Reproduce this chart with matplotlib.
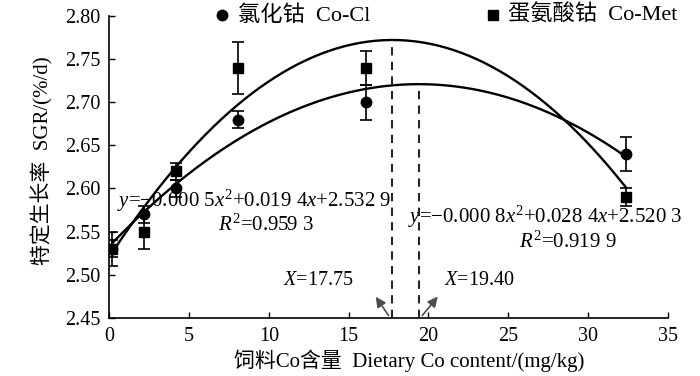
import numpy as np
import matplotlib
matplotlib.use("Agg")
import matplotlib.pyplot as plt

plt.rcParams['font.family'] = ['Liberation Serif', 'Noto Sans CJK SC']
plt.rcParams['mathtext.fontset'] = 'custom'
plt.rcParams['mathtext.rm'] = 'Liberation Serif'
plt.rcParams['mathtext.it'] = 'Liberation Serif:italic'

# data
co_level = [0.2, 2.2, 4.2, 8.1, 16.1, 32.4]
sgr_cl = [2.53, 2.57, 2.60, 2.68, 2.70, 2.64]
err_cl = [0.02, 0.01, 0.01, 0.01, 0.02, 0.02]
sgr_met = [2.53, 2.55, 2.62, 2.74, 2.74, 2.59]
err_met = [0.01, 0.02, 0.01, 0.03, 0.02, 0.01]

coef_cl = [-0.0005, 0.0194, 2.5329]
coef_met = [-0.0008, 0.0284, 2.5203]
opt_cl = 19.40
opt_met = 17.75

fig = plt.figure(figsize=(7, 3.76), dpi=100)
ax = fig.add_axes([0.156, 0.155, 0.798, 0.802])

xs = np.linspace(co_level[0], co_level[-1], 200)
ax.plot(xs, np.polyval(coef_cl, xs), color='black', lw=1.7)
ax.plot(xs, np.polyval(coef_met, xs), color='black', lw=1.7)

ax.errorbar(co_level, sgr_cl, yerr=err_cl, fmt='o', color='black', ms=7.5,
            capsize=4, elinewidth=1.2, capthick=1.2)
ax.errorbar(co_level, sgr_met, yerr=err_met, fmt='s', color='black', ms=7.5,
            capsize=4, elinewidth=1.2, capthick=1.2)

# optimum lines
ax.plot([opt_met, opt_met], [2.45, np.polyval(coef_met, opt_met)], color='0.15',
        lw=1.5, ls=(0, (4, 3)))
ax.plot([opt_cl, opt_cl], [2.45, np.polyval(coef_cl, opt_cl)], color='0.15',
        lw=1.5, ls=(0, (4, 3)))

arrow = dict(arrowstyle='-|>', color='0.3', lw=1.2, mutation_scale=15)
ax.annotate('', xy=(16.6, 2.477), xytext=(17.6, 2.45), arrowprops=arrow)
ax.annotate('', xy=(20.7, 2.477), xytext=(19.5, 2.45), arrowprops=arrow)

fs = 15
ax.text(13.1, 2.4935, '$X$=17.75', fontsize=14.5, ha='center', va='center')
ax.text(21.0, 2.4935, '$X$=19.40', fontsize=14.5, ha='left', va='center')
ax.text(0.5, 2.586, '$y$=−0.000 5$x^2$+0.019 4$x$+2.532 9', fontsize=fs,
        ha='left', va='center')
ax.text(9.8, 2.557, '$R^2$=0.959 3', fontsize=fs, ha='center', va='center')
ax.text(18.7, 2.567, '$y$=−0.000 8$x^2$+0.028 4$x$+2.520 3', fontsize=fs,
        ha='left', va='center', clip_on=False)
ax.text(28.7, 2.538, '$R^2$=0.919 9', fontsize=fs, ha='center', va='center')

# legend drawn by hand
ax.plot([7.06], [2.801], 'o', color='black', ms=7.5, clip_on=False)
ax.text(8.1, 2.801, '氯化钴  Co-Cl', fontsize=16, ha='left', va='center')
ax.plot([24.06], [2.801], 's', color='black', ms=6.5, clip_on=False)
ax.text(25.0, 2.801, '蛋氨酸钴  Co-Met', fontsize=16, ha='left', va='center')

ax.set_xlim(0, 35)
ax.set_ylim(2.45, 2.80)
ax.set_xticks(np.arange(0, 36, 5))
ax.set_yticks(np.arange(2.45, 2.801, 0.05))
ax.set_yticklabels([f'{v:.2f}' for v in np.arange(2.45, 2.801, 0.05)])
ax.tick_params(direction='in', labelsize=14.5, length=4, width=1)
ax.tick_params(axis='x', pad=7)
ax.tick_params(axis='y', pad=6)
ax.spines['top'].set_visible(False)
ax.spines['right'].set_visible(False)
for s in ['left', 'bottom']:
    ax.spines[s].set_linewidth(1.2)

ax.set_xlabel('饲料Co含量  Dietary Co content/(mg/kg)', fontsize=fs)
ax.set_ylabel('特定生长率  SGR/(%/d)', fontsize=fs)
ax.xaxis.set_label_coords(0.537, -0.105)
ax.yaxis.set_label_coords(-0.10, 0.52)

fig.savefig('out.png', dpi=100)
